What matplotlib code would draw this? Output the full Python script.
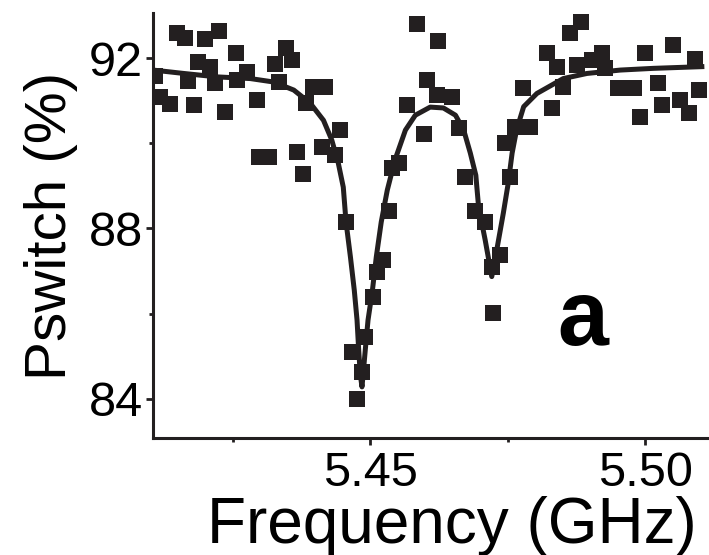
import numpy as np
import matplotlib
matplotlib.use("Agg")
import matplotlib.pyplot as plt
from matplotlib.ticker import MultipleLocator

plt.rcParams['font.family'] = ['Liberation Sans', 'DejaVu Sans']

# measured switching probability (GHz, %)
freq = [5.4109, 5.4118, 5.4136, 5.4149, 5.4164, 5.4169, 5.4179, 5.4187, 5.4199, 5.4209,
        5.4218, 5.4225, 5.4236, 5.4256, 5.4258, 5.4276, 5.4294, 5.4297, 5.4316, 5.4327,
        5.4335, 5.4346, 5.4358, 5.4367, 5.4377, 5.4383, 5.4396, 5.4418, 5.4412, 5.4436,
        5.4445, 5.4456, 5.4467, 5.4476, 5.4485, 5.4491, 5.4505, 5.4513, 5.4524, 5.4535,
        5.4539, 5.4553, 5.4567, 5.4585, 5.4597, 5.4604, 5.4621, 5.4623, 5.4649, 5.4662,
        5.4673, 5.4690, 5.4709, 5.4721, 5.4724, 5.4736, 5.4745, 5.4755, 5.4764, 5.4791,
        5.4778, 5.4821, 5.4830, 5.4839, 5.4851, 5.4864, 5.4876, 5.4884, 5.4903, 5.4921,
        5.4927, 5.4951, 5.4979, 5.4991, 5.5000, 5.5024, 5.5030, 5.5050, 5.5064, 5.5079,
        5.5091, 5.5097]
pswitch = [91.58, 91.08, 90.92, 92.59, 92.47, 91.46, 90.90, 91.91, 92.46, 91.80,
           91.41, 92.64, 90.74, 92.11, 91.48, 91.68, 91.01, 89.67, 89.67, 91.86,
           91.44, 92.23, 91.95, 89.80, 89.29, 90.94, 91.33, 91.33, 89.92, 89.72,
           90.31, 88.16, 85.11, 83.99, 84.63, 85.46, 86.40, 86.98, 87.26, 88.42,
           89.41, 89.54, 90.90, 92.80, 90.22, 91.48, 91.13, 92.41, 91.09, 90.35,
           89.21, 88.40, 88.16, 87.10, 86.01, 87.38, 90.00, 89.21, 90.38, 90.38,
           91.29, 92.11, 90.82, 91.80, 91.33, 92.58, 91.84, 92.85, 91.95, 92.11,
           91.76, 91.29, 91.29, 90.62, 92.11, 91.41, 90.90, 92.31, 91.01, 90.70,
           91.99, 91.25]

# fit curve
fit_freq = [5.4105, 5.4161, 5.4221, 5.4282, 5.4324, 5.4361, 5.4391, 5.4415, 5.4430, 5.4442,
            5.4451, 5.4456, 5.4464, 5.4471, 5.4476, 5.4479, 5.4482, 5.4485, 5.4487, 5.4491,
            5.4496, 5.4504, 5.4511, 5.4520, 5.4531, 5.4545, 5.4564, 5.4582, 5.4609, 5.4633,
            5.4655, 5.4670, 5.4682, 5.4692, 5.4697, 5.4709, 5.4721, 5.4730, 5.4742, 5.4751,
            5.4758, 5.4766, 5.4779, 5.4803, 5.4851, 5.4894, 5.4955, 5.5015, 5.5103]
fit_p = [91.72, 91.64, 91.56, 91.52, 91.44, 91.25, 90.94, 90.54, 90.08, 89.53,
         88.97, 88.15, 87.33, 86.55, 85.85, 85.15, 84.56, 84.28, 84.56, 85.15,
         85.85, 86.55, 87.33, 88.15, 88.90, 89.61, 90.31, 90.66, 90.85, 90.83,
         90.66, 90.31, 89.77, 89.25, 88.51, 87.73, 86.87, 87.49, 88.36, 89.07,
         89.77, 90.31, 90.86, 91.17, 91.52, 91.64, 91.72, 91.76, 91.80]

ink = '#231f20'

fig = plt.figure(figsize=(7.09, 5.55), dpi=100)
ax = fig.add_axes([0.2158, 0.2108, 0.7842, 0.7658])

ax.plot(fit_freq, fit_p, color=ink, lw=3.6, solid_joinstyle='round', zorder=2)
ax.plot(freq, pswitch, ls='none', marker='s', ms=11.5, mew=0, color=ink, zorder=3)

ax.set_xlim(5.4105, 5.5116)
ax.set_ylim(83.08, 93.06)

ax.xaxis.set_minor_locator(MultipleLocator(0.025))
ax.yaxis.set_major_locator(MultipleLocator(4))
ax.yaxis.set_minor_locator(MultipleLocator(2))
ax.set_xticks([5.45, 5.50])
ax.set_xticklabels(['5.45', '5.50'])

for s in ['top', 'right']:
    ax.spines[s].set_visible(False)
for s in ['left', 'bottom']:
    ax.spines[s].set_linewidth(2.2)
    ax.spines[s].set_color(ink)

ax.tick_params(which='major', direction='out', length=5, width=2, color=ink,
               labelsize=35, pad=2)
ax.tick_params(axis='x', which='major', pad=4)
ax.tick_params(which='minor', direction='out', length=3, width=2, color=ink)

ax.set_xlabel('Frequency (GHz)', fontsize=46)
ax.set_ylabel('Pswitch (%)', fontsize=42)
ax.xaxis.set_label_coords(0.538, -0.137)
ax.yaxis.set_label_coords(-0.135, 0.5)

ax.text(5.4887, 85.26, 'a', fontsize=66, fontweight='bold', ha='center', va='baseline')

fig.savefig('out.png', dpi=100)
